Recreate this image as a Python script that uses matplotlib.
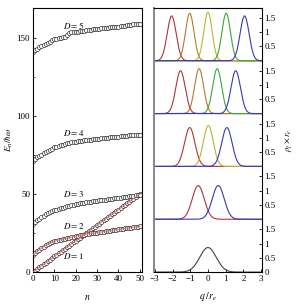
import numpy as np
import matplotlib
matplotlib.use("Agg")
import matplotlib.pyplot as plt

plt.rcParams['font.family'] = ['Liberation Serif', 'DejaVu Serif']
plt.rcParams['mathtext.fontset'] = 'stix'
plt.rcParams['font.size'] = 6.5

# left panel: energies E_n / hbar*omega for D = 1..5
n = list(range(51))
E_D1 = [0, 1, 2, 3, 4, 5, 6, 7, 8, 9, 10, 11, 12, 13, 14, 15, 16, 17, 18, 19,
        20, 21, 22, 23, 24, 25, 26, 27, 28, 29, 30, 31, 32, 33, 34, 35, 36, 37,
        38, 39, 40, 41, 42, 43, 44, 45, 46, 47, 48, 49, 50]
E_D2 = [11, 12.2, 13.3, 14.4, 15.4, 16.3, 17.2, 18, 18.6, 19.2, 19.7, 20.1, 20.5,
        20.8, 21.1, 21.4, 21.7, 22, 22.3, 22.6, 22.9, 23.2, 23.5, 23.7, 24, 24.3,
        24.5, 24.7, 24.9, 25.1, 25.3, 25.5, 25.7, 25.9, 26.1, 26.3, 26.5, 26.7,
        26.9, 27.1, 27.3, 27.5, 27.7, 27.9, 28.1, 28.3, 28.5, 28.7, 28.9, 29.1, 29.3]
E_D3 = [31, 32, 33, 34, 35, 36, 36.9, 37.8, 38.5, 39, 39.5, 40, 40.4, 40.8, 41.2,
        41.6, 42, 42.4, 42.8, 43.2, 43.6, 43.8, 44.1, 44.3, 44.5, 44.7, 44.9, 45.1,
        45.3, 45.5, 45.7, 45.9, 46, 46.2, 46.4, 46.6, 46.7, 46.9, 47.1, 47.3, 47.5,
        47.7, 47.9, 48.1, 48.3, 48.5, 48.7, 48.9, 49.1, 49.3, 49.5]
E_D4 = [71, 72.2, 73.3, 74.3, 75.2, 76, 76.8, 77.5, 78.2, 79, 79.7, 80.2, 80.7,
        81.1, 81.5, 81.9, 82.3, 82.6, 82.9, 83.2, 83.5, 83.7, 83.9, 84.1, 84.3,
        84.5, 84.6, 84.8, 84.9, 85.0, 85.2, 85.4, 85.5, 85.7, 85.8, 86, 86.1, 86.3,
        86.4, 86.6, 86.7, 86.8, 87, 87.1, 87.2, 87.4, 87.5, 87.6, 87.8, 87.9, 88.0]
E_D5 = [141, 142, 143, 143.7, 144.5, 145.3, 146, 146.8, 147.5, 148.2, 148.8, 149.2,
        149.6, 150, 150.3, 150.6, 151.5, 153, 153.3, 153.5, 153.7, 153.9, 154.1,
        154.3, 154.5, 154.7, 154.9, 155.1, 155.3, 155.4, 155.5, 155.7, 155.9, 156.0,
        156.2, 156.4, 156.5, 156.7, 156.8, 157.0, 157.1, 157.3, 157.5, 157.7, 157.9,
        158.0, 158.3, 158.5, 158.7, 158.9, 159.0]
labels = ["$D = 1$", "$D = 2$", "$D = 3$", "$D = 4$", "$D = 5$"]
label_pos = [(14, 10), (14, 29.5), (14, 50), (14, 89), (14, 158)]

# right panels: site densities (centre, peak height) for D = 5..1
centres = [[-2.05, -1.03, 0.0, 1.03, 2.07],
           [-1.55, -0.5, 0.52, 1.57],
           [-1.03, 0.02, 1.07],
           [-0.55, 0.58],
           [0.0]]
peaks = [[1.57, 1.66, 1.70, 1.66, 1.57],
         [1.50, 1.57, 1.57, 1.50],
         [1.36, 1.43, 1.36],
         [1.18, 1.18],
         [0.86]]
colours = [["#b0343c", "#b8782e", "#bdb52e", "#3aa83a", "#3838b8"],
           ["#b0343c", "#b8782e", "#3aa83a", "#3838b8"],
           ["#b0343c", "#bdb52e", "#3838b8"],
           ["#b0343c", "#3838b8"],
           ["#444444"]]

fig = plt.figure(figsize=(2.99, 3.04), dpi=100)

ax = fig.add_axes([0.110, 0.105, 0.365, 0.869])
for E in [E_D1, E_D2, E_D3, E_D4, E_D5]:
    ax.plot(n, E, 'o', ms=3.0, mfc='white', mec='#222222', mew=0.45, zorder=2)
for E in [E_D1, E_D2]:
    ax.plot(n, E, '-', color='#e06a6a', lw=0.9, alpha=0.8, zorder=3)
for lab, (x, y) in zip(labels, label_pos):
    ax.text(x, y, lab, fontsize=6.5, ha='left', va='center')
ax.set_xlim(0, 51)
ax.set_ylim(0, 169)
ax.set_xticks([0, 10, 20, 30, 40, 50])
ax.set_yticks([0, 50, 100, 150])
ax.set_yticks([25, 75, 125], minor=True)
ax.tick_params(direction='in', length=2.5, width=0.6, pad=2)
ax.tick_params(which='minor', direction='in', length=1.5, width=0.5)
ax.set_ylabel("$E_n/\\hbar\\omega$", labelpad=1)
for s in ax.spines.values():
    s.set_linewidth(0.8)
fig.text(0.292, 0.022, "$n$", ha='center', va='center', fontsize=7)

q = np.linspace(-3.05, 3.05, 400)
h = 0.869 / 5
for i in range(5):
    axr = fig.add_axes([0.515, 0.974 - (i + 1) * h, 0.361, h])
    for c, p, col in zip(centres[i], peaks[i], colours[i]):
        sig = 1.0 / (p * np.sqrt(2 * np.pi))
        axr.plot(q, p * np.exp(-(q - c) ** 2 / (2 * sig ** 2)), color=col, lw=0.8,
                 clip_on=False)
    axr.set_xlim(-3.05, 3.05)
    axr.set_ylim(0, 1.85)
    axr.yaxis.tick_right()
    if i == 4:
        axr.set_yticks([0, 0.5, 1, 1.5])
        axr.set_yticklabels(["0", "0.5", "1", "1.5"])
        axr.set_xticks([-3, -2, -1, 0, 1, 2, 3])
        axr.set_xticklabels(["\u22123", "\u22122", "\u22121", "0", "1", "2", "3"])
    else:
        axr.set_yticks([0.5, 1, 1.5])
        axr.set_yticklabels(["0.5", "1", "1.5"])
        axr.set_xticks([])
        axr.spines['bottom'].set_visible(False)
    if i != 0:
        axr.spines['top'].set_visible(False)
    axr.tick_params(direction='in', length=2.5, width=0.6, pad=2)
    axr.spines['left'].set_color('#888888')
    axr.spines['left'].set_linewidth(1.4)
    axr.spines['right'].set_linewidth(0.8)
    axr.spines['top'].set_linewidth(0.8)
    axr.spines['bottom'].set_linewidth(0.8)
    axr.patch.set_alpha(0)

fig.text(0.696, 0.025, "$q\\;/r_e$", ha='center', va='center', fontsize=7)
fig.text(0.965, 0.54, "$\\rho_j\\times r_e$", rotation=90, ha='center', va='center',
         fontsize=6.5)

fig.savefig("out.png", dpi=100)
